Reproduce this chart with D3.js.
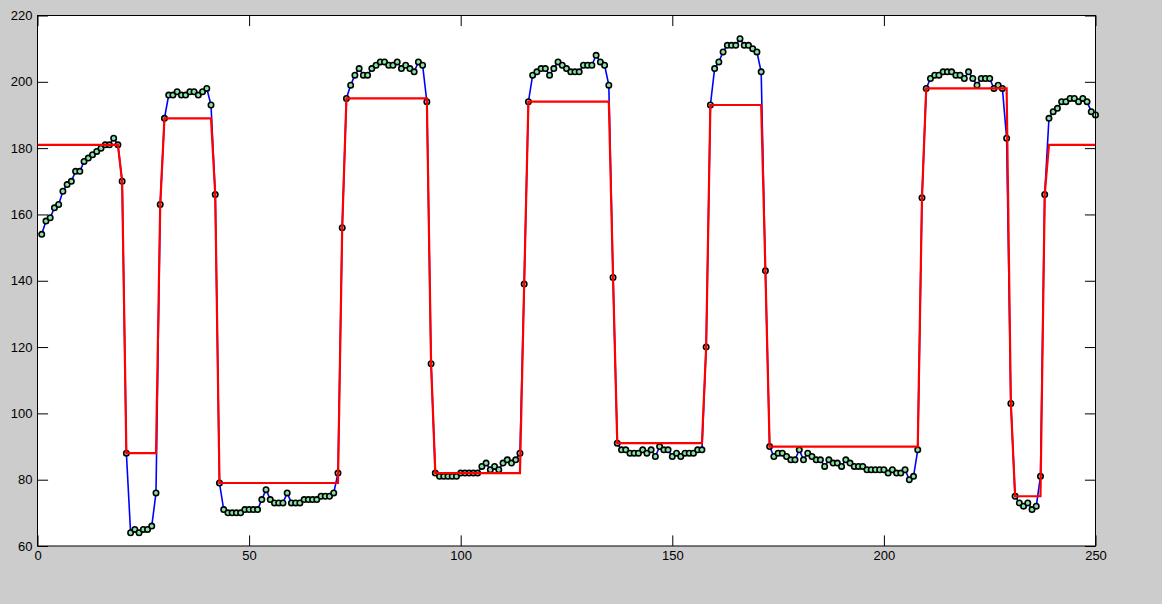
<!DOCTYPE html>
<html>
<head>
<meta charset="utf-8">
<script src="https://cdn.jsdelivr.net/npm/d3@7"></script>
<style>
    body { margin: 0; background: #cccccc; }
    svg { display: block; }
    .tick text { font-family: "Liberation Sans", Arial, sans-serif; font-size: 13px; fill: #000; }
    .tick line { stroke: #000; }
</style>
</head>
<body>
<div id="chart-container"></div>
<script>
// measured signal, one value per sample (samples 1..250)
const signal = [
    154, 158, 159, 162, 163, 167, 169, 170, 173, 173, 176, 177, 178, 179, 180, 181, 181, 183, 181, 170,
    88, 64, 65, 64, 65, 65, 66, 76, 163,
    189, 196, 196, 197, 196, 196, 197, 197, 196, 197, 198, 193, 166,
    79, 71, 70, 70, 70, 70, 71, 71, 71, 71, 74, 77, 74, 73, 73, 73, 76, 73, 73, 73, 74, 74, 74, 74, 75, 75, 75, 76, 82, 156,
    195, 199, 202, 204, 202, 202, 204, 205, 206, 206, 205, 205, 206, 204, 205, 204, 203, 206, 205, 194, 115,
    82, 81, 81, 81, 81, 81, 82, 82, 82, 82, 82, 84, 85, 83, 84, 83, 85, 86, 85, 86, 88, 139,
    194, 202, 203, 204, 204, 202, 204, 206, 205, 204, 203, 203, 203, 205, 205, 205, 208, 206, 205, 199, 141,
    91, 89, 89, 88, 88, 88, 89, 88, 89, 87, 90, 89, 89, 87, 88, 87, 88, 88, 88, 89, 89, 120,
    193, 204, 206, 209, 211, 211, 211, 213, 211, 211, 210, 209, 203, 143,
    90, 87, 88, 88, 87, 86, 86, 89, 86, 88, 87, 86, 86, 84, 86, 85, 85, 84, 86, 85, 84, 84, 84, 83, 83, 83, 83, 83, 82, 83, 82, 82, 83, 80, 81, 89, 165,
    198, 201, 202, 202, 203, 203, 203, 202, 202, 201, 203, 201, 199, 201, 201, 201, 198, 199, 198, 183, 103,
    75, 73, 72, 73, 71, 72, 81, 166,
    189, 191, 192, 194, 194, 195, 195, 194, 195, 194, 191, 190
];

// piecewise constant fit: first sample, last sample and level of each segment
const segStart = [0, 21, 30, 43, 73, 94, 116, 137, 159, 173, 210, 231, 239];
const segEnd   = [19, 28, 41, 71, 92, 114, 135, 157, 171, 208, 229, 237, 250];
const segLevel = [181, 88, 189, 79, 195, 82, 194, 91, 193, 90, 198, 75, 181];

const xTicks = [0, 50, 100, 150, 200, 250];
const yTicks = [60, 80, 100, 120, 140, 160, 180, 200, 220];

const margin = { top: 15.5, right: 66.5, bottom: 58, left: 37.5 };
const fullWidth = 1162;
const fullHeight = 604;
const width = fullWidth - margin.left - margin.right;
const height = fullHeight - margin.top - margin.bottom;
const tickLen = 10.6;

function buildFit() {
    // segment plateaus joined through the transition samples
    const pts = [];
    segStart.forEach((s, i) => {
        pts.push([s, segLevel[i]]);
        pts.push([segEnd[i], segLevel[i]]);
        if (i < segStart.length - 1) {
            for (let k = segEnd[i] + 1; k < segStart[i + 1]; k++) {
                pts.push([k, signal[k - 1]]);
            }
        }
    });
    return pts;
}

function drawChart() {
    const points = signal.map((v, i) => [i + 1, v]);
    const fit = buildFit();

    const svg = d3.select("#chart-container")
        .append("svg")
        .attr("width", fullWidth)
        .attr("height", fullHeight);

    const g = svg.append("g")
        .attr("transform", `translate(${margin.left},${margin.top})`);

    const x = d3.scaleLinear().domain([0, 250]).range([0, width]);
    const y = d3.scaleLinear().domain([60, 220]).range([height, 0]);

    g.append("rect")
        .attr("width", width)
        .attr("height", height)
        .attr("fill", "#ffffff");

    g.append("clipPath").attr("id", "plot-clip")
        .append("rect")
        .attr("x", -4).attr("y", -4)
        .attr("width", width + 8).attr("height", height + 8);

    // axes with inward ticks on all four sides
    const xAxis = g.append("g")
        .attr("transform", `translate(0,${height})`)
        .call(d3.axisBottom(x).tickValues(xTicks).tickSizeInner(-tickLen).tickSizeOuter(0).tickPadding(5));
    const yAxis = g.append("g")
        .call(d3.axisLeft(y).tickValues(yTicks).tickSizeInner(-tickLen).tickSizeOuter(0).tickPadding(5));
    const xTop = g.append("g")
        .call(d3.axisTop(x).tickValues(xTicks).tickSizeInner(-tickLen).tickSizeOuter(0).tickFormat(""));
    const yRight = g.append("g")
        .attr("transform", `translate(${width},0)`)
        .call(d3.axisRight(y).tickValues(yTicks).tickSizeInner(-tickLen).tickSizeOuter(0).tickFormat(""));

    [xAxis, yAxis, xTop, yRight].forEach(a => a.select(".domain").remove());

    const plot = g.append("g").attr("clip-path", "url(#plot-clip)");

    const line = d3.line()
        .x(d => x(d[0]))
        .y(d => y(d[1]));

    plot.append("path")
        .datum(points)
        .attr("fill", "none")
        .attr("stroke", "#0000ff")
        .attr("stroke-width", 1.6)
        .attr("d", line);

    plot.selectAll(".dot")
        .data(points)
        .enter().append("circle")
        .attr("class", "dot")
        .attr("cx", d => x(d[0]))
        .attr("cy", d => y(d[1]))
        .attr("r", 2.7)
        .attr("fill", "#85e6a5")
        .attr("stroke", "#000000")
        .attr("stroke-width", 1.6);

    plot.append("path")
        .datum(fit)
        .attr("fill", "none")
        .attr("stroke", "#ff0000")
        .attr("stroke-width", 2.2)
        .attr("d", line);

    g.append("rect")
        .attr("width", width)
        .attr("height", height)
        .attr("fill", "none")
        .attr("stroke", "#000000")
        .attr("stroke-width", 1);
}

document.addEventListener('DOMContentLoaded', drawChart);
</script>
</body>
</html>
